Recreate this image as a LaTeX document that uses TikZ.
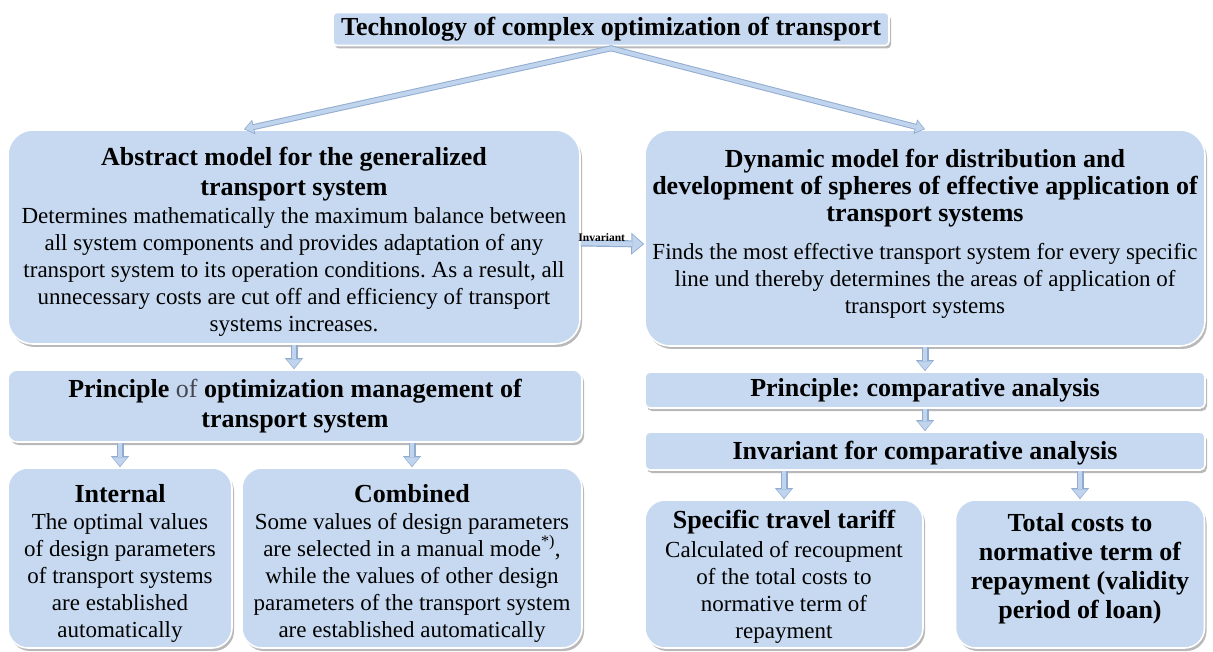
\documentclass[tikz,border=0pt]{standalone}
\usepackage{fontspec}
\setmainfont{Liberation Serif}
\usetikzlibrary{arrows.meta,shadows}

\definecolor{boxfill}{RGB}{198,217,240}
\definecolor{arrowfill}{RGB}{192,212,238}
\definecolor{arrowedge}{RGB}{146,172,208}
\definecolor{softtext}{RGB}{70,70,80}

\newcommand\hd{\fontsize{26}{27}\selectfont\bfseries}
% invisible struts that move a text block up or down inside its box
\newcommand\tallfirst[1]{\rule{0pt}{#1}}
\newcommand\deeplast[1]{\rule[-#1]{0pt}{#1}}

\tikzset{
  box/.style={draw=white, line width=1.6pt, fill=boxfill, align=center, inner sep=0pt,
    drop shadow={shadow xshift=2pt, shadow yshift=-3pt, opacity=0.5, fill=black!55},
    font=\fontsize{23}{27}\selectfont},
  downedge/.style={draw=arrowedge, line width=7pt,
    -{Triangle[width=18pt,length=11pt,line width=0pt]}},
  downfill/.style={draw=arrowfill, line width=4.6pt,
    -{Triangle[width=14.5pt,length=8.6pt,line width=0pt]}, shorten >=1.2pt},
  sideedge/.style={draw=arrowedge, line width=7pt,
    -{Triangle[width=22pt,length=13pt,line width=0pt]}},
  sidefill/.style={draw=arrowfill, line width=4.6pt,
    -{Triangle[width=18pt,length=10.5pt,line width=0pt]}, shorten >=1.4pt},
  branchedge/.style={draw=arrowedge, line width=6pt, line cap=round,
    -{Triangle[width=15pt,length=10pt,line width=0pt]}},
  branchfill/.style={draw=arrowfill, line width=4pt, line cap=round,
    -{Triangle[width=11.5pt,length=7.8pt,line width=0pt]}, shorten >=1.3pt},
  tag/.style={font=\fontsize{11.5}{13}\selectfont\bfseries, inner sep=1pt}
}

\begin{document}
\frenchspacing
\begin{tikzpicture}[x=1pt, y=-1pt]
\useasboundingbox (0,0) rectangle (1213,652);

% ---- boxes ----
\node[box, rounded corners=4pt, minimum width=556pt, minimum height=33pt] (top) at (611,29)
  {\hd Technology of complex optimization of transport};

\node[box, rounded corners=25pt, minimum width=572pt, minimum height=214pt] (abs) at (294,237)
  {\hd\tallfirst{27pt}Abstract model for the generalized\\[3pt]
   \hd transport system\\[1pt]
   Determines mathematically the maximum balance between\\
   all system components and provides adaptation of any\\
   transport system to its operation conditions. As a result, all\\
   unnecessary costs are cut off and efficiency of transport\\
   systems increases.};

\node[box, rounded corners=25pt, minimum width=560pt, minimum height=216pt] (dyn) at (925,238)
  {\hd Dynamic model for distribution and\\
   \hd development of spheres of effective application of\\
   \hd transport systems\\[11pt]
   Finds the most effective transport system for every specific\\
   line und thereby determines the areas of application of\\
   transport systems\deeplast{13pt}};

\node[box, rounded corners=9pt, minimum width=574pt, minimum height=72pt] (prinL) at (295,406)
  {\hd Principle {\mdseries\color{softtext}of} optimization management of\\[3pt]
   \hd transport system};

\node[box, rounded corners=5pt, minimum width=560pt, minimum height=36pt] (prinR) at (925,390)
  {\hd Principle: comparative analysis};

\node[box, rounded corners=5pt, minimum width=560pt, minimum height=38pt] (invR) at (925,451)
  {\hd\tallfirst{23pt}Invariant for comparative analysis};

\node[box, rounded corners=20pt, minimum width=224pt, minimum height=180pt] (intl) at (120,558)
  {\hd\tallfirst{28pt}Internal\\
   The optimal values\\
   of design parameters\\
   of transport systems\\
   are established\\
   automatically};

\node[box, rounded corners=20pt, minimum width=340pt, minimum height=180pt] (comb) at (412,558)
  {\hd\tallfirst{28pt}Combined\\
   Some values of design parameters\\
   are selected in a manual mode\textsuperscript{*)},\\
   while the values of other design\\
   parameters of the transport system\\
   are established automatically};

\node[box, rounded corners=20pt, minimum width=278pt, minimum height=148pt] (spec) at (784,574)
  {\hd\tallfirst{24pt}Specific travel tariff\\[2pt]
   Calculated of recoupment\\
   of the total costs to\\
   normative term of\\
   repayment};

\node[box, rounded corners=20pt, minimum width=249pt, minimum height=148pt] (tot) at (1080,574)
  {\hd Total costs to\\[2.3pt]
   \hd normative term of\\[2.3pt]
   \hd repayment (validity\\[2.3pt]
   \hd period of loan)\\[-11pt]};

% ---- connectors ----
\foreach \s in {branchedge, branchfill}{
  \draw[\s] ([yshift=-2pt]top.south) -- ([xshift=-50pt]abs.north);
  \draw[\s] ([yshift=-2pt]top.south) -- (dyn.north);
}

\foreach \s in {downedge, downfill}{
  \draw[\s] (abs.south) -- (abs.south |- prinL.north);
  \draw[\s] (dyn.south) -- (prinR.north);
  \draw[\s] (prinR.south) -- (invR.north);
  \draw[\s] (prinL.south -| intl.north) -- (intl.north);
  \draw[\s] (prinL.south -| comb.north) -- (comb.north);
  \draw[\s] (invR.south -| spec.north) -- (spec.north);
  \draw[\s] (invR.south -| tot.north) -- (tot.north);
}
\foreach \s in {sideedge, sidefill}{
  \draw[\s] ([yshift=-6pt]abs.east) -- ([yshift=-6pt]dyn.west);
}
\path ([yshift=-6pt]abs.east) -- ([yshift=-6pt]dyn.west)
  node[tag, pos=0.33, above=1pt] (invtag) {Invariant};

\end{tikzpicture}
\end{document}
